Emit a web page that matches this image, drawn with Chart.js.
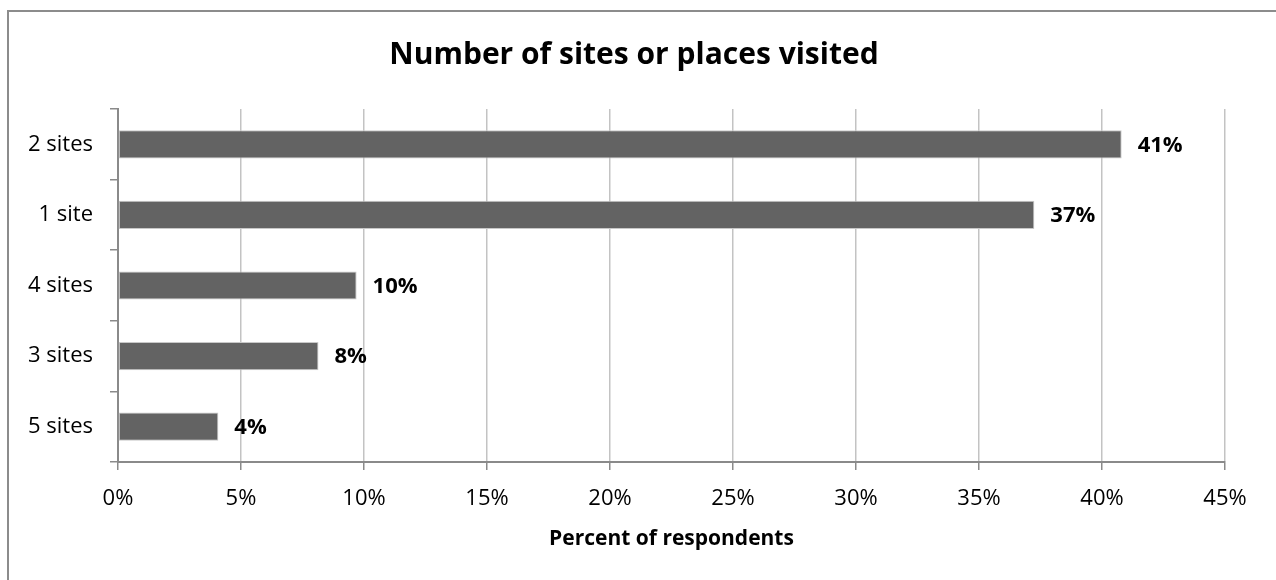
<!DOCTYPE html>
<html>
<head>
<meta charset="utf-8">
<script src="https://cdn.jsdelivr.net/npm/chart.js@4"></script>
<style>
  html, body { margin: 0; padding: 0; background: #fff; }
  #wrap { position: relative; width: 1276px; height: 580px; }
  #frame { position: absolute; left: 7px; top: 10px; right: -10px; bottom: -10px;
           border-left: 2px solid #8c8c8c; border-top: 2px solid #8c8c8c; }
  canvas { position: absolute; left: 0; top: 0; }
</style>
</head>
<body>
<div id="wrap">
  <div id="frame"></div>
  <canvas id="chart" width="1276" height="580"></canvas>
</div>
<script>
var categories = ["2 sites", "1 site", "4 sites", "3 sites", "5 sites"];
var percentValues = [40.8, 37.25, 9.7, 8.15, 4.08];
var valueLabels = ["41%", "37%", "10%", "8%", "4%"];
var xTickMax = 45;
var xTickStep = 5;
var chartTitle = "Number of sites or places visited";

var fontFamily = "'Open Sans', 'Liberation Sans', sans-serif";

// title is centred on the framed box, not on the plot, so draw it here
var titlePlugin = {
    id: 'boxTitle',
    afterDraw: function (chart) {
        var ctx = chart.ctx;
        ctx.save();
        ctx.font = "bold 30px " + fontFamily;
        ctx.fillStyle = "#000";
        ctx.textAlign = "center";
        ctx.textBaseline = "middle";
        ctx.fillText(chartTitle, 634, 55);
        ctx.restore();
    }
};

// draws the bold percentage next to each bar
var valueLabelPlugin = {
    id: 'valueLabels',
    afterDatasetsDraw: function (chart) {
        var ctx = chart.ctx;
        var meta = chart.getDatasetMeta(0);
        ctx.save();
        ctx.font = "bold 22px " + fontFamily;
        ctx.fillStyle = "#000";
        ctx.textAlign = "left";
        ctx.textBaseline = "middle";
        meta.data.forEach(function (bar, i) {
            ctx.fillText(valueLabels[i], bar.x + 16, bar.y + 1);
        });
        ctx.restore();
    }
};

var ctx = document.getElementById('chart').getContext('2d');
var chart = new Chart(ctx, {
    type: 'bar',
    data: {
        labels: categories,
        datasets: [{
            data: percentValues,
            backgroundColor: "#636363",
            borderColor: "#c8c8c8",
            borderWidth: 1,
            borderSkipped: false,
            categoryPercentage: 1,
            barPercentage: 0.4
        }]
    },
    options: {
        indexAxis: 'y',
        responsive: false,
        animation: false,
        layout: { padding: { left: 0, right: 51, top: 109, bottom: 0 } },
        plugins: {
            legend: { display: false },
            tooltip: { enabled: false }
        },
        scales: {
            x: {
                min: 0,
                max: xTickMax,
                afterFit: function (scale) { scale.height = 118; },
                ticks: {
                    stepSize: xTickStep,
                    color: "#000",
                    padding: 16,
                    font: { family: fontFamily, size: 22 },
                    callback: function (v) { return v + "%"; }
                },
                grid: {
                    color: "#c3c3c3",
                    lineWidth: 1.5,
                    tickColor: "#8a8a8a",
                    tickLength: 8
                },
                border: { color: "#8a8a8a", width: 2 },
                title: {
                    display: true,
                    text: "Percent of respondents",
                    color: "#000",
                    font: { family: fontFamily, size: 21, weight: 'bold' },
                    padding: { top: 0, bottom: 28 }
                }
            },
            y: {
                afterFit: function (scale) { scale.width = 118; },
                ticks: {
                    color: "#000",
                    padding: 17,
                    font: { family: fontFamily, size: 22 }
                },
                grid: {
                    offset: true,
                    drawOnChartArea: false,
                    tickColor: "#8a8a8a",
                    tickLength: 8,
                    lineWidth: 1.5
                },
                border: { color: "#8a8a8a", width: 2 }
            }
        }
    },
    plugins: [valueLabelPlugin, titlePlugin]
});
</script>
</body>
</html>
